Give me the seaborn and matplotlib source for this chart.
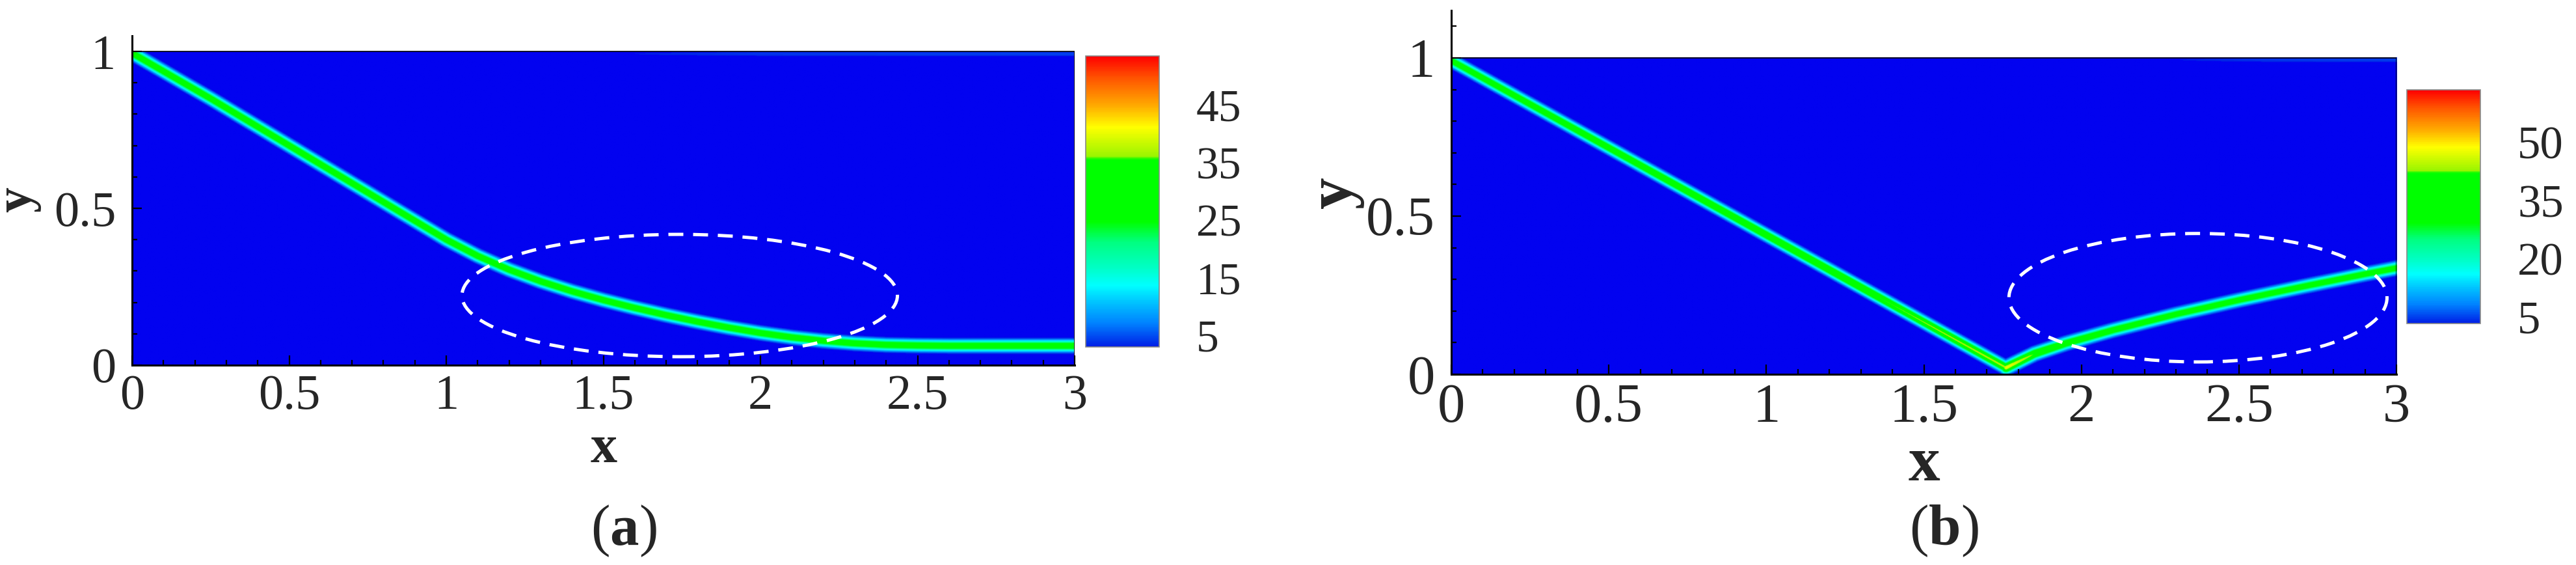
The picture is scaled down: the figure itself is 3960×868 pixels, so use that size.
import numpy as np
import matplotlib
matplotlib.use('Agg')
import matplotlib.pyplot as plt
import seaborn as sns
from matplotlib.colors import LinearSegmentedColormap
from matplotlib.patches import Ellipse, Rectangle
from matplotlib.ticker import MultipleLocator, FuncFormatter

# ---- data ----
# panel (a): shock path (x, y) and peak value along it
shock_a_x = [0.0, 0.25, 0.5, 0.75, 0.9, 1.0, 1.1, 1.2, 1.3, 1.4, 1.5, 1.6,
             1.7, 1.8, 1.9, 2.0, 2.1, 2.2, 2.3, 2.4, 2.5, 2.6, 3.0]
shock_a_y = [0.995, 0.85, 0.70, 0.55, 0.46, 0.40, 0.348, 0.304, 0.267, 0.235,
             0.207, 0.182, 0.159, 0.138, 0.119, 0.102, 0.088, 0.077, 0.069,
             0.064, 0.062, 0.061, 0.061]
shock_a_peak = 31.0
# faint upper wall layer in panel (a)
wall_a_x = [1.2, 2.0, 3.0]
wall_a_y = [0.993, 0.993, 0.993]
wall_a_peak = [2.0, 4.0, 4.5]

# panel (b): incident and reflected shock
incident_b_x = [0.0, 1.76]
incident_b_y = [0.99, 0.02]
incident_b_peak = [36.0, 44.0]
reflected_b_x = [1.76, 1.85, 1.95, 2.1, 2.3, 2.5, 2.7, 2.9, 3.0]
reflected_b_y = [0.02, 0.064, 0.097, 0.139, 0.189, 0.234, 0.276, 0.316, 0.335]
reflected_b_peak = [48.0, 42.0, 38.0, 36.0, 35.0, 35.0, 35.0, 35.0, 35.0]
wall_b_x = [2.0, 2.6, 3.0]
wall_b_y = [0.993, 0.993, 0.993]
wall_b_peak = [2.0, 4.5, 5.0]

# colour-bar ranges and ticks
cbar_a_range = (3.0, 53.5)
cbar_a_ticks = [5, 15, 25, 35, 45]
cbar_b_range = (3.3, 63.6)
cbar_b_ticks = [5, 20, 35, 50]

# dashed ellipses marking the interaction regions: centre, width, height
ellipse_a = ((1.743, 0.222), 1.386, 0.39)
ellipse_b = ((2.37, 0.242), 1.20, 0.406)

# ---- style ----
sns.set_theme(style='white')
plt.rcParams['font.family'] = ['Liberation Serif', 'DejaVu Serif']
plt.rcParams['mathtext.fontset'] = 'custom'
plt.rcParams['mathtext.rm'] = 'Liberation Serif'
plt.rcParams['mathtext.bf'] = 'Liberation Serif:bold'

# tecplot-like rainbow
cmap = LinearSegmentedColormap.from_list('tec', [
    (0.00, (0.00, 0.12, 0.90)),
    (0.08, (0.00, 0.51, 1.00)),
    (0.156, (0.00, 0.78, 1.00)),
    (0.21, (0.00, 1.00, 1.00)),
    (0.27, (0.00, 1.00, 0.78)),
    (0.36, (0.00, 1.00, 0.50)),
    (0.43, (0.00, 1.00, 0.00)),
    (0.645, (0.00, 1.00, 0.00)),
    (0.655, (0.60, 0.96, 0.00)),
    (0.756, (1.00, 1.00, 0.00)),
    (0.83, (1.00, 0.67, 0.00)),
    (0.925, (1.00, 0.33, 0.00)),
    (1.00, (1.00, 0.00, 0.00)),
])
cmap.set_under('#0202f0')


def band_field(X, Y, px, py, peak, width):
    # value of a thin band following the polyline (px, py)
    px = np.asarray(px, float)
    py = np.asarray(py, float)
    pk = np.broadcast_to(np.asarray(peak, float), px.shape)
    out = np.zeros_like(X)
    for i in range(len(px) - 1):
        dx, dy = px[i + 1] - px[i], py[i + 1] - py[i]
        t = ((X - px[i]) * dx + (Y - py[i]) * dy) / (dx * dx + dy * dy)
        t = np.clip(t, 0, 1)
        d = np.hypot(X - (px[i] + t * dx), Y - (py[i] + t * dy))
        p = pk[i] + t * (pk[i + 1] - pk[i])
        out = np.maximum(out, p * np.exp(-(d / width) ** 2))
    return out


def draw_panel(ax, cax, field, crange, cticks, ell, ytop, tick_fs, cbar_fs):
    im = ax.imshow(field, extent=[0, 3, 0, 1], origin='lower', cmap=cmap,
                   vmin=crange[0], vmax=crange[1], aspect='auto',
                   interpolation='bilinear')
    ax.add_patch(Rectangle((0, 0), 3, 1, fill=False, ec='black', lw=1.2, zorder=3))
    (cx, cy), w, h = ell
    ax.add_patch(Ellipse((cx, cy), w, h, fill=False, ec='white', lw=3.6,
                         ls=(0, (4.6, 3.0)), zorder=4))
    ax.set_xlim(0, 3)
    ax.set_ylim(0, ytop)
    ax.xaxis.set_major_locator(MultipleLocator(0.5))
    ax.xaxis.set_minor_locator(MultipleLocator(0.1))
    ax.yaxis.set_major_locator(MultipleLocator(0.5))
    ax.yaxis.set_minor_locator(MultipleLocator(0.1))
    fmt = FuncFormatter(lambda v, p: '%g' % round(v, 2))
    ax.xaxis.set_major_formatter(fmt)
    ax.yaxis.set_major_formatter(fmt)
    for s in ['top', 'right']:
        ax.spines[s].set_visible(False)
    for s in ['left', 'bottom']:
        ax.spines[s].set_linewidth(2.2)
        ax.spines[s].set_color('black')
    ax.tick_params(which='both', direction='in', bottom=True, left=True,
                   top=False, right=False, color='black', width=1.6)
    ax.tick_params(which='major', length=11, labelsize=tick_fs)
    ax.tick_params(which='minor', length=6)
    ax.tick_params(axis='x', pad=10)
    ax.tick_params(axis='y', pad=18)

    cb = plt.colorbar(im, cax=cax, ticks=cticks)
    cb.outline.set_edgecolor('#888888')
    cb.outline.set_linewidth(1.2)
    cax.tick_params(length=0, labelsize=cbar_fs, pad=41)
    return im


# grid for the contour fields
xg = np.linspace(0, 3, 1800)
yg = np.linspace(0, 1, 600)
X, Y = np.meshgrid(xg, yg)

field_a = np.maximum(
    band_field(X, Y, shock_a_x, shock_a_y, shock_a_peak, 0.017),
    band_field(X, Y, wall_a_x, wall_a_y, wall_a_peak, 0.012),
)
field_b = np.maximum.reduce([
    band_field(X, Y, incident_b_x, incident_b_y, incident_b_peak, 0.016),
    band_field(X, Y, reflected_b_x, reflected_b_y, reflected_b_peak, 0.017),
    band_field(X, Y, wall_b_x, wall_b_y, wall_b_peak, 0.012),
])

W, H = 3960, 868
fig = plt.figure(figsize=(W / 100, H / 100), dpi=100)
ax_a = fig.add_axes([203 / W, 307 / H, 1449 / W, 506 / H])
cax_a = fig.add_axes([1669 / W, 335 / H, 113 / W, 447 / H])
ax_b = fig.add_axes([2231 / W, 293 / H, 1453 / W, 559 / H])
cax_b = fig.add_axes([3700 / W, 371 / H, 113 / W, 359 / H])

draw_panel(ax_a, cax_a, field_a, cbar_a_range, cbar_a_ticks, ellipse_a, 1.05, 55, 50)
draw_panel(ax_b, cax_b, field_b, cbar_b_range, cbar_b_ticks, ellipse_b, 1.15, 61, 51)

# axis labels and panel captions
fig.text(928 / W, 1 - 710 / H, 'x', ha='center', va='baseline', fontsize=59, fontweight='bold')
fig.text(28 / W, 1 - 307 / H, 'y', ha='center', va='center', rotation=90,
         fontsize=56, fontweight='bold')
fig.text(2958 / W, 1 - 738 / H, 'x', ha='center', va='baseline', fontsize=70, fontweight='bold')
fig.text(2052 / W, 1 - 296 / H, 'y', ha='center', va='center', rotation=90,
         fontsize=70, fontweight='bold')
fig.text(959 / W, 1 - 837 / H, r'($\mathbf{a}$)', ha='center', va='baseline', fontsize=64)
fig.text(2988 / W, 1 - 837 / H, r'($\mathbf{b}$)', ha='center', va='baseline', fontsize=64)

fig.savefig('out.png', dpi=100, facecolor='white')
